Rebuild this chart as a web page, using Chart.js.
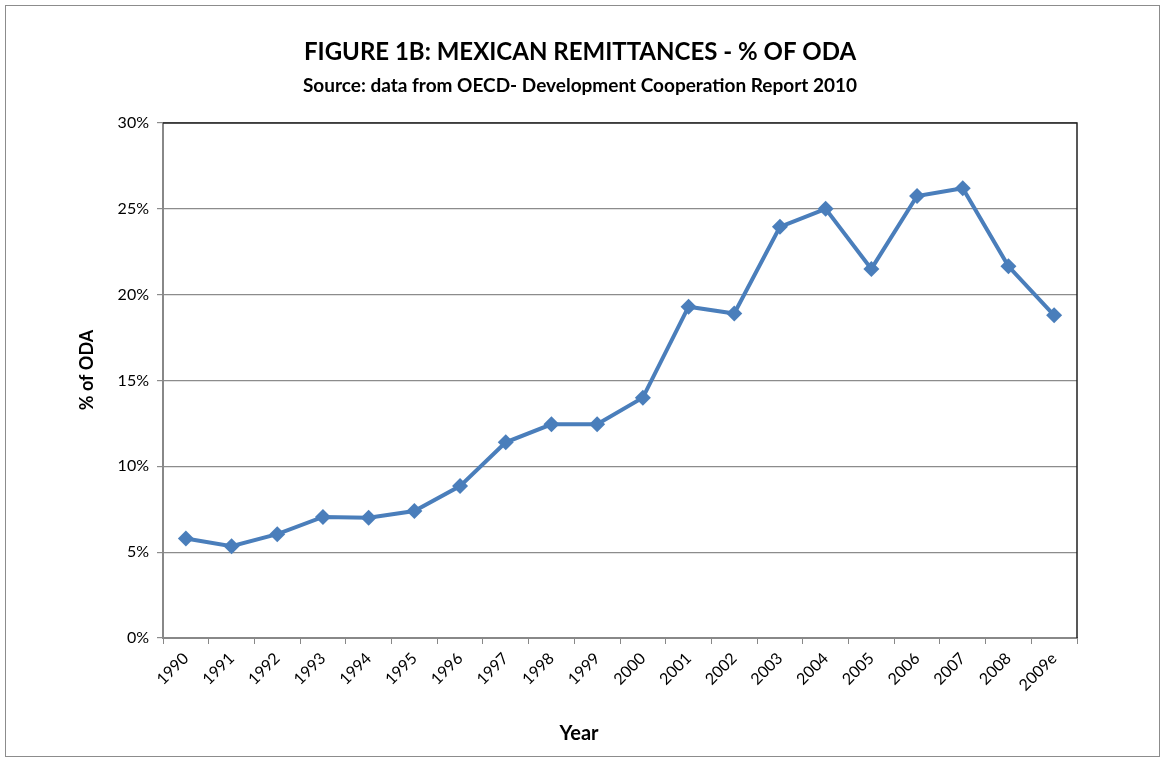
<!DOCTYPE html>
<html>
<head>
<meta charset="utf-8">
<script src="https://cdn.jsdelivr.net/npm/chart.js@4"></script>
<style>
  body { margin: 0; background: #fff; }
  canvas { display: block; }
</style>
</head>
<body>
<canvas id="chart" width="1166" height="761"></canvas>
<script>
const years = ["1990", "1991", "1992", "1993", "1994", "1995", "1996", "1997", "1998", "1999",
  "2000", "2001", "2002", "2003", "2004", "2005", "2006", "2007", "2008", "2009e"];
const pctOfOda = [5.8, 5.35, 6.05, 7.05, 7.0, 7.4, 8.85, 11.4, 12.45, 12.45,
  14.0, 19.3, 18.9, 23.95, 25.0, 21.5, 25.75, 26.2, 21.65, 18.8];

const titleText = "FIGURE 1B: MEXICAN REMITTANCES - % OF ODA";
const subtitleText = "Source: data from OECD- Development Cooperation Report 2010";
const xTitle = "Year";
const yTitle = "% of ODA";

const FONT = "Lato, 'Open Sans', sans-serif";

// frame, plot border and titles drawn by hand, like the excel original
const decor = {
  id: "decor",
  beforeDraw(chart) {
    const ctx = chart.ctx;
    ctx.save();
    ctx.fillStyle = "#fff";
    ctx.fillRect(0, 0, chart.width, chart.height);
    ctx.strokeStyle = "#8c8c8c";
    ctx.lineWidth = 1;
    ctx.strokeRect(5.5, 5.5, 1154, 751);
    ctx.restore();
  },
  afterDraw(chart) {
    const ctx = chart.ctx;
    const a = chart.chartArea;
    ctx.save();
    ctx.strokeStyle = "#222";
    ctx.lineWidth = 1.5;
    ctx.beginPath();
    ctx.moveTo(a.left, a.top);
    ctx.lineTo(a.right, a.top);
    ctx.lineTo(a.right, a.bottom);
    ctx.stroke();

    ctx.fillStyle = "#000";
    ctx.textAlign = "center";
    ctx.textBaseline = "middle";
    ctx.font = "bold 24px " + FONT;
    ctx.fillText(titleText, 580, 52);
    ctx.font = "bold 19px " + FONT;
    ctx.fillText(subtitleText, 580, 86);
    ctx.font = "bold 20px " + FONT;
    ctx.fillText(xTitle, 579, 734);

    ctx.translate(87, 370);
    ctx.rotate(-Math.PI / 2);
    ctx.font = "bold 18px " + FONT;
    ctx.fillText(yTitle, 0, 0);
    ctx.restore();
  }
};

new Chart(document.getElementById("chart"), {
  type: "line",
  data: {
    labels: years,
    datasets: [{
      data: pctOfOda,
      borderColor: "#4a7ebb",
      backgroundColor: "#4a7ebb",
      borderWidth: 4,
      pointStyle: "rectRot",
      pointRadius: 8,
      pointBorderWidth: 0,
      tension: 0,
      fill: false
    }]
  },
  options: {
    responsive: false,
    animation: false,
    devicePixelRatio: 1,
    layout: { padding: { top: 123, right: 89, left: 0, bottom: 0 } },
    plugins: {
      legend: { display: false },
      title: { display: false },
      tooltip: { enabled: false }
    },
    scales: {
      x: {
        offset: true,
        afterFit: (scale) => { scale.height = 123; },
        grid: {
          offset: true,
          drawOnChartArea: false,
          drawTicks: true,
          tickLength: 6,
          color: "#888"
        },
        border: { color: "#888", width: 2 },
        ticks: {
          minRotation: 45,
          maxRotation: 45,
          color: "#000",
          padding: 5,
          font: { family: FONT, size: 16 }
        }
      },
      y: {
        min: 0,
        max: 30,
        afterFit: (scale) => { scale.width = 163; },
        ticks: {
          stepSize: 5,
          color: "#000",
          padding: 8,
          font: { family: FONT, size: 16 },
          callback: (v) => v + "%"
        },
        grid: {
          color: "#8c8c8c",
          lineWidth: 1.2,
          tickLength: 6
        },
        border: { color: "#888", width: 2 }
      }
    }
  },
  plugins: [decor]
});
</script>
</body>
</html>
